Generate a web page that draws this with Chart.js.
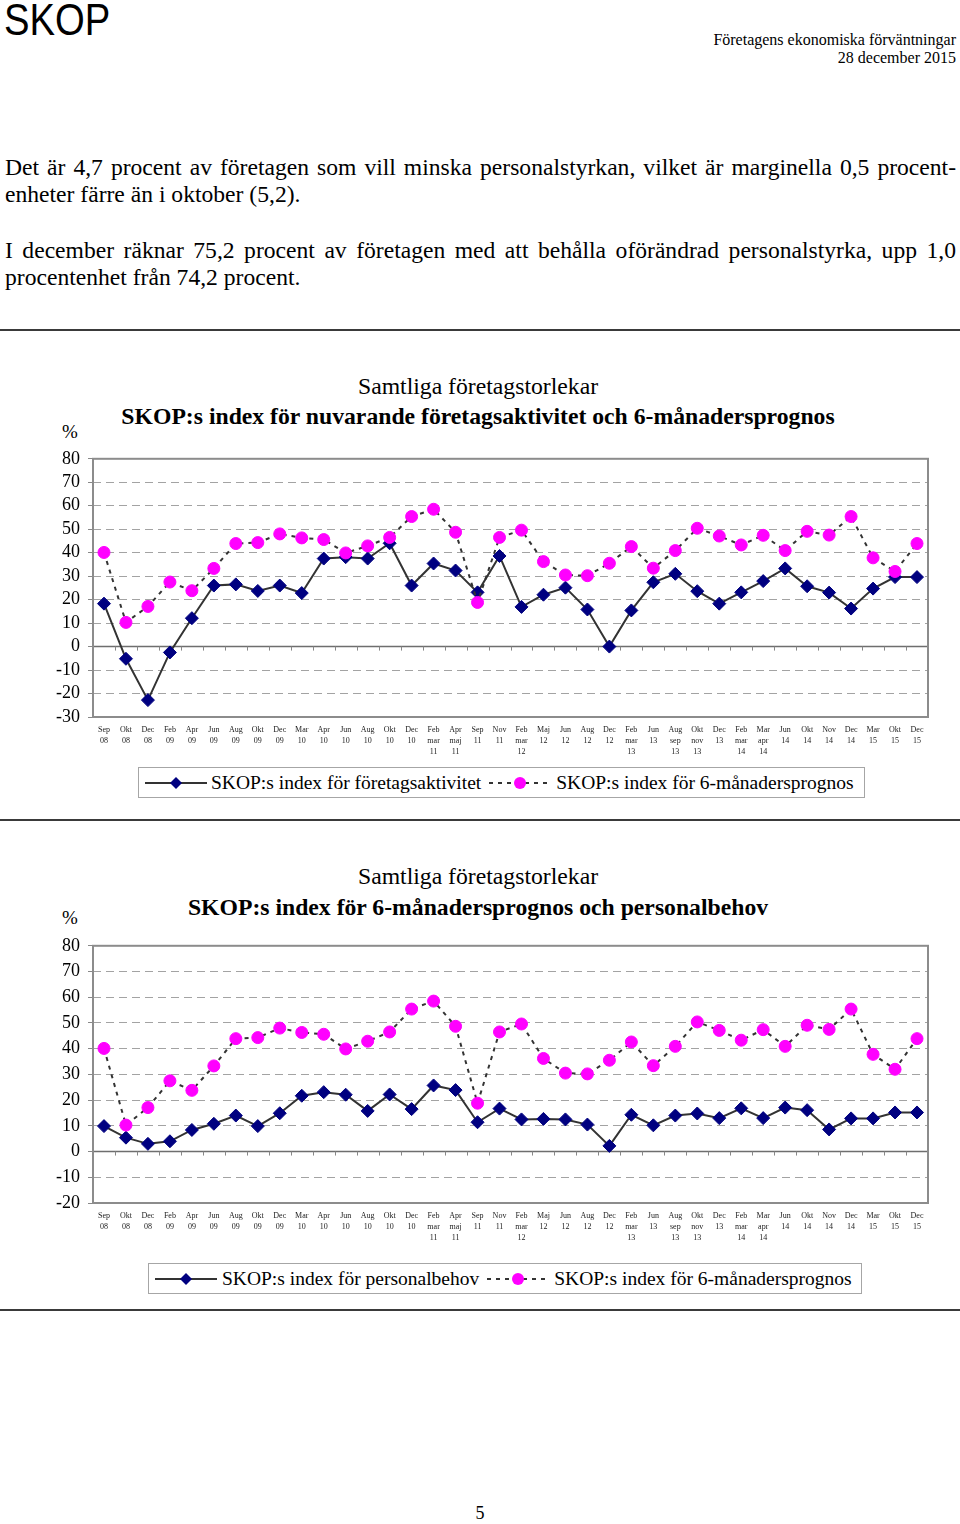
<!DOCTYPE html>
<html lang="sv">
<head>
<meta charset="utf-8">
<title>SKOP – Företagens ekonomiska förväntningar</title>
<script src="https://cdn.jsdelivr.net/npm/chart.js@4.4.1/dist/chart.umd.min.js"></script>
<style>
  html, body { margin: 0; padding: 0; background: #fff; }
  body { width: 960px; height: 1524px; position: relative; overflow: hidden;
         font-family: "Liberation Serif", "Times New Roman", serif; color: #000; }
  .abs { position: absolute; white-space: nowrap; }
  .logo { left: 4px; top: -3px; font-family: "Liberation Sans", Arial, sans-serif;
          font-size: 45px; line-height: 45px; transform: scaleX(0.85); transform-origin: left top; }
  .head { right: 4px; top: 31px; text-align: right; font-size: 16px; line-height: 18px; }
  .p { position: absolute; left: 5px; width: 951px; font-size: 23.6px; line-height: 27px; }
  .just { text-align: justify; text-align-last: justify; }
  .rule { position: absolute; left: 0; width: 960px; height: 0; border-top: 2px solid #3a3a3a; }
  .t1 { left: 0; width: 956px; text-align: center; font-size: 23.7px; line-height: 27px; }
  .t2 { left: 0; width: 956px; text-align: center; font-size: 23.7px; line-height: 27px; font-weight: bold; }
  .pct { left: 62px; font-size: 19px; line-height: 20px; }
  .legend { position: absolute; border: 1px solid #a6a6a6; height: 31px; box-sizing: border-box;
            display: flex; align-items: center; font-size: 19.5px; white-space: nowrap; }
  .legend svg { display: block; }
  canvas { position: absolute; left: 0; }
</style>
</head>
<body>

<div class="abs logo">SKOP</div>
<div class="abs head">Företagens ekonomiska förväntningar<br>28 december 2015</div>

<div class="p just" style="top:154px">Det är 4,7 procent av företagen som vill minska personalstyrkan, vilket är marginella 0,5 procent-</div>
<div class="p" style="top:181px">enheter färre än i oktober (5,2).</div>
<div class="p just" style="top:237px">I december räknar 75,2 procent av företagen med att behålla oförändrad personalstyrka, upp 1,0</div>
<div class="p" style="top:264px">procentenhet från 74,2 procent.</div>

<div class="rule" style="top:329px"></div>

<!-- Diagram 1 -->
<div class="abs t1" style="top:373px">Samtliga företagstorlekar</div>
<div class="abs t2" style="top:403px">SKOP:s index för nuvarande företagsaktivitet och 6-månadersprognos</div>
<div class="abs pct" style="top:422px">%</div>
<canvas id="chart-aktivitet" width="960" height="325" style="top:440px"></canvas>
<div class="legend" style="left:138px; top:767px; width:727px">
  <svg width="62" height="20" style="margin-left:6px">
    <line x1="0" y1="10" x2="62" y2="10" stroke="#333" stroke-width="2"/>
    <polygon points="31,4 37,10 31,16 25,10" fill="#000080"/>
  </svg>
  <span style="margin-left:4px">SKOP:s index för företagsaktivitet</span>
  <svg width="62" height="20" style="margin-left:8px">
    <line x1="0" y1="10" x2="62" y2="10" stroke="#333" stroke-width="2" stroke-dasharray="4 5"/>
    <circle cx="31" cy="10" r="6" fill="#ff00ff"/>
  </svg>
  <span style="margin-left:5px">SKOP:s index för 6-månadersprognos</span>
</div>

<div class="rule" style="top:819px"></div>

<!-- Diagram 2 -->
<div class="abs t1" style="top:863px">Samtliga företagstorlekar</div>
<div class="abs t2" style="top:894px">SKOP:s index för 6-månadersprognos och personalbehov</div>
<div class="abs pct" style="top:908px">%</div>
<canvas id="chart-personal" width="960" height="325" style="top:927px"></canvas>
<div class="legend" style="left:148px; top:1263px; width:714px">
  <svg width="62" height="20" style="margin-left:6px">
    <line x1="0" y1="10" x2="62" y2="10" stroke="#333" stroke-width="2"/>
    <polygon points="31,4 37,10 31,16 25,10" fill="#000080"/>
  </svg>
  <span style="margin-left:5px">SKOP:s index för personalbehov</span>
  <svg width="62" height="20" style="margin-left:8px">
    <line x1="0" y1="10" x2="62" y2="10" stroke="#333" stroke-width="2" stroke-dasharray="4 5"/>
    <circle cx="31" cy="10" r="6" fill="#ff00ff"/>
  </svg>
  <span style="margin-left:5px">SKOP:s index för 6-månadersprognos</span>
</div>

<div class="rule" style="top:1309px"></div>
<div class="abs" style="left:0; width:960px; text-align:center; top:1503px; font-size:18px; line-height:20px">5</div>

<script>
// Mätomgångar (x-axelns etiketter, en rad per element)
const kategorier = [
  ['Sep', '08'], ['Okt', '08'], ['Dec', '08'], ['Feb', '09'], ['Apr', '09'], ['Jun', '09'],
  ['Aug', '09'], ['Okt', '09'], ['Dec', '09'], ['Mar', '10'], ['Apr', '10'], ['Jun', '10'],
  ['Aug', '10'], ['Okt', '10'], ['Dec', '10'], ['Feb', 'mar', '11'], ['Apr', 'maj', '11'],
  ['Sep', '11'], ['Nov', '11'], ['Feb', 'mar', '12'], ['Maj', '12'], ['Jun', '12'],
  ['Aug', '12'], ['Dec', '12'], ['Feb', 'mar', '13'], ['Jun', '13'], ['Aug', 'sep', '13'],
  ['Okt', 'nov', '13'], ['Dec', '13'], ['Feb', 'mar', '14'], ['Mar', 'apr', '14'],
  ['Jun', '14'], ['Okt', '14'], ['Nov', '14'], ['Dec', '14'], ['Mar', '15'], ['Okt', '15'],
  ['Dec', '15']
];

// SKOP:s index för nuvarande företagsaktivitet
const aktivitet = [
  18.3, -5.2, -22.8, -2.5, 12.1, 26.0, 26.5, 23.7, 26.0, 22.8, 37.5, 38.1,
  37.5, 44.0, 26.0, 35.4, 32.4, 23.1, 38.6, 16.9, 22.1, 25.1, 15.8, 0.0,
  15.4, 27.4, 31.0, 23.6, 18.3, 23.1, 27.9, 33.3, 25.7, 23.0, 16.2, 24.7,
  29.6, 29.6
];

// SKOP:s index för 6-månadersprognos
const prognos = [
  40.1, 10.3, 17.1, 27.5, 23.8, 33.3, 43.9, 44.3, 48.0, 46.3, 45.6, 39.9,
  42.9, 46.5, 55.4, 58.5, 48.7, 18.8, 46.5, 49.6, 36.2, 30.5, 30.2, 35.5,
  42.6, 33.4, 40.9, 50.4, 47.1, 43.3, 47.4, 40.9, 49.1, 47.5, 55.4, 37.8,
  32.0, 43.9
];

// SKOP:s index för personalbehov
const personalbehov = [
  9.9, 5.4, 3.0, 4.0, 8.4, 10.8, 14.0, 9.9, 14.9, 21.7, 23.1, 22.1,
  15.8, 22.2, 16.5, 25.7, 23.9, 11.4, 16.7, 12.5, 12.7, 12.5, 10.5, 2.2,
  14.3, 10.2, 14.0, 14.8, 13.0, 16.8, 13.0, 17.1, 16.1, 8.6, 12.9, 12.9,
  15.2, 15.2
];

// y-axlarnas intervall
const yAxel1 = { min: -30, max: 80, steg: 10 };
const yAxel2 = { min: -20, max: 80, steg: 10 };

Chart.defaults.font.family = '"Liberation Serif", "Times New Roman", serif';
Chart.defaults.color = '#000';

// Ram runt diagramytan, heldragen nollinje och små skalstreck på den
const ramPlugin = {
  id: 'ramar',
  beforeDatasetsDraw(chart) {
    const { ctx, chartArea: a, scales: { x, y } } = chart;
    const y0 = y.getPixelForValue(0);
    ctx.save();
    ctx.strokeStyle = '#6e6e6e';
    ctx.lineWidth = 1.5;
    ctx.beginPath();
    ctx.moveTo(a.left, y0);
    ctx.lineTo(a.right, y0);
    ctx.stroke();

    ctx.lineWidth = 1;
    ctx.strokeStyle = '#888';
    ctx.beginPath();
    for (let i = 0; i <= kategorier.length; i++) {
      const px = Math.round(x.getPixelForValue(i - 0.5)) + 0.5;
      ctx.moveTo(px, y0);
      ctx.lineTo(px, y0 + 4);
    }
    ctx.stroke();

    ctx.strokeStyle = '#8c8c8c';
    ctx.lineWidth = 2;
    ctx.strokeRect(a.left, a.top, a.width, a.height);
    ctx.restore();
  }
};

function seriePunkter(label, data) {
  return {
    label: label,
    data: data,
    borderColor: '#333',
    borderWidth: 2,
    pointStyle: 'rectRot',
    pointRadius: 6.5,
    pointBackgroundColor: '#000080',
    pointBorderColor: '#000080',
    pointBorderWidth: 1,
    tension: 0,
    order: 2
  };
}

function serieCirklar(label, data) {
  return {
    label: label,
    data: data,
    borderColor: '#333',
    borderWidth: 2,
    borderDash: [4, 5],
    pointStyle: 'circle',
    pointRadius: 6,
    pointBackgroundColor: '#ff00ff',
    pointBorderColor: '#ff00ff',
    pointBorderWidth: 1,
    tension: 0,
    order: 1
  };
}

function skapaDiagram(id, datasets, axel, xHojd) {
  const ctx = document.getElementById(id);
  return new Chart(ctx, {
    type: 'line',
    data: { labels: kategorier, datasets: datasets },
    plugins: [ramPlugin],
    options: {
      responsive: false,
      animation: false,
      layout: { padding: { top: 17, right: 32, left: 0, bottom: 0 } },
      plugins: {
        legend: { display: false },
        tooltip: { enabled: false }
      },
      scales: {
        x: {
          offset: true,
          grid: { display: false, drawTicks: false },
          border: { display: false },
          ticks: {
            autoSkip: false,
            maxRotation: 0,
            minRotation: 0,
            padding: 8,
            color: '#222',
            font: { size: 8, lineHeight: 1.35 }
          },
          afterFit(scale) { scale.height = xHojd; }
        },
        y: {
          min: axel.min,
          max: axel.max,
          grid: {
            color: (c) => (c.tick && (c.tick.value === 0 || c.tick.value === axel.max)) ? 'rgba(0,0,0,0)' : '#a3a3a3',
            lineWidth: 1,
            drawTicks: true,
            tickLength: 5,
            tickColor: '#888',
            tickBorderDash: []
          },
          border: { display: false, dash: [8, 5] },
          ticks: {
            stepSize: axel.steg,
            autoSkip: false,
            padding: 8,
            color: '#000',
            font: { size: 18 }
          },
          afterFit(scale) { scale.width = 93; }
        }
      }
    }
  });
}

skapaDiagram('chart-aktivitet', [
  seriePunkter('SKOP:s index för företagsaktivitet', aktivitet),
  serieCirklar('SKOP:s index för 6-månadersprognos', prognos)
], yAxel1, 48);

skapaDiagram('chart-personal', [
  seriePunkter('SKOP:s index för personalbehov', personalbehov),
  serieCirklar('SKOP:s index för 6-månadersprognos', prognos)
], yAxel2, 49);
</script>
</body>
</html>
